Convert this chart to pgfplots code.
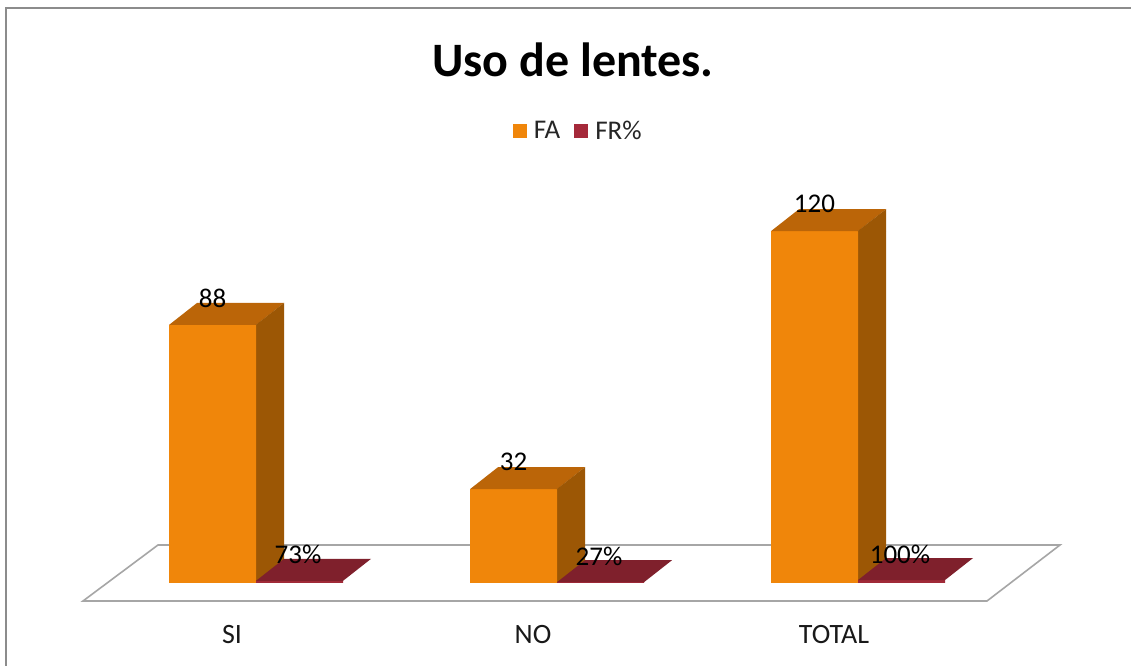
\documentclass[border=0pt]{standalone}
\usepackage{fontspec}
\setmainfont{Carlito}
\usepackage{pgfplots}
\usepackage{pgfplotstable}
\pgfplotsset{compat=1.18}

\definecolor{ofront}{HTML}{F0860A}
\definecolor{otop}{HTML}{BB6508}
\definecolor{oside}{HTML}{9C5705}
\definecolor{rtop}{HTML}{7F202C}
\definecolor{rfront}{HTML}{A02A38}
\definecolor{rleg}{HTML}{A5293A}
\definecolor{floorline}{HTML}{A6A6A6}
\definecolor{frame}{HTML}{8C8C8C}

\pgfplotstableread{
cat FA FR
SI 88 73
NO 32 27
TOTAL 120 100
}\data

% top face + upper triangle of side face of an orange bar (point = top-right front corner)
\pgfdeclareplotmark{obartop}{%
  \pgfsetfillcolor{otop}%
  \pgfpathmoveto{\pgfpoint{-87bp}{0bp}}%
  \pgfpathlineto{\pgfpoint{0bp}{0bp}}%
  \pgfpathlineto{\pgfpoint{28bp}{22bp}}%
  \pgfpathlineto{\pgfpoint{-59bp}{22bp}}%
  \pgfpathclose
  \pgfusepath{fill}%
  \pgfsetfillcolor{oside}%
  \pgfpathmoveto{\pgfpoint{-0.3bp}{0bp}}%
  \pgfpathlineto{\pgfpoint{28bp}{22bp}}%
  \pgfpathlineto{\pgfpoint{28bp}{0bp}}%
  \pgfpathclose
  \pgfusepath{fill}%
}
% top face of a red bar (point = top-left front corner)
\pgfdeclareplotmark{rbartop}{%
  \pgfsetfillcolor{rtop}%
  \pgfpathmoveto{\pgfpoint{0bp}{0bp}}%
  \pgfpathlineto{\pgfpoint{87bp}{0bp}}%
  \pgfpathlineto{\pgfpoint{115bp}{22bp}}%
  \pgfpathlineto{\pgfpoint{28bp}{22bp}}%
  \pgfpathclose
  \pgfusepath{fill}%
}

\begin{document}
\begin{tikzpicture}[x=1bp,y=1bp]
\path[use as bounding box, fill=white] (0,0) rectangle (1131,666);
\draw[frame, line width=2bp] (6,-5) -- (6,658) -- (1140,658);
% floor
\draw[floorline, line width=1.6bp, fill=white] (83,65) -- (987,65) -- (1060,121) -- (158,121) -- cycle;
% title
\node[font=\fontsize{48bp}{54bp}\selectfont\bfseries] at (573,606) {Uso de lentes.};

\begin{axis}[
  at={(105.5bp,83bp)}, anchor=south west,
  scale only axis, width=903bp, height=410.5bp,
  xmin=-0.5, xmax=2.5, ymin=0, ymax=140,
  clip=false,
  axis line style={draw=none},
  major tick length=0pt,
  ytick=\empty,
  xtick={0,1,2},
  xticklabels={SI,NO,TOTAL},
  xticklabel style={font=\fontsize{28bp}{32bp}\selectfont, anchor=center, xshift=-24bp, yshift=-52bp, text=black!90},
  /pgf/number format/assume math mode=true,
  legend columns=2,
  legend style={draw=none, fill=none, at={(axis description cs:0.5235,1.101)}, anchor=center,
    font=\fontsize{27bp}{31bp}\selectfont, text=black!85,
    /tikz/every odd column/.append style={column sep=5bp},
    /tikz/every even column/.append style={column sep=12bp}},
  legend image code/.code={\fill[#1, draw=none] (0bp,-7bp) rectangle (14bp,7bp);},
]
\addlegendimage{fill=ofront, draw=none}
\addlegendentry{FA}
\addlegendimage{fill=rleg, draw=none}
\addlegendentry{FR\%}

% side faces (dark) of orange bars
\addplot[ybar, bar width=28bp, bar shift=14bp, fill=oside, draw=none, forget plot]
  table[x expr=\coordindex, y=FA]{\data};
% front faces of orange bars
\addplot[ybar, bar width=87bp, bar shift=-43.5bp, fill=ofront, draw=none, forget plot]
  table[x expr=\coordindex, y=FA]{\data};
% top faces of orange bars
\addplot[only marks, mark=obartop, forget plot]
  table[x expr=\coordindex, y=FA]{\data};
% front faces of red bars (FR as fraction)
\addplot[ybar, bar width=87bp, bar shift=43.5bp, fill=rfront, draw=none, forget plot]
  table[x expr=\coordindex, y expr=\thisrow{FR}/100]{\data};
% top faces of red bars
\addplot[only marks, mark=rbartop, forget plot]
  table[x expr=\coordindex, y expr=\thisrow{FR}/100]{\data};

% labels
\addplot[only marks, mark=none, forget plot,
  nodes near coords={\pgfmathprintnumber{\pgfplotspointmeta}},
  every node near coord/.append style={anchor=center, xshift=-43.5bp, yshift=27bp,
     font=\fontsize{27bp}{31bp}\selectfont, text=black}]
  table[x expr=\coordindex, y=FA]{\data};
\addplot[only marks, mark=none, forget plot,
  point meta=explicit,
  nodes near coords={\pgfmathprintnumber{\pgfplotspointmeta}\%},
  every node near coord/.append style={anchor=center, xshift=42bp, yshift=26bp,
     font=\fontsize{27bp}{31bp}\selectfont, text=black}]
  table[x expr=\coordindex, y expr=\thisrow{FR}/100, meta=FR]{\data};
\end{axis}
\end{tikzpicture}
\end{document}
